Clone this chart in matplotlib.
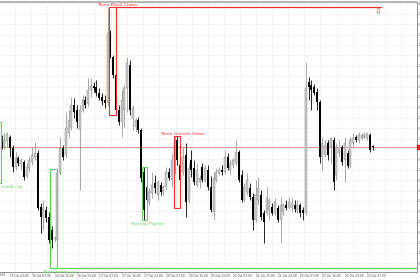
import matplotlib
matplotlib.use("Agg")
import matplotlib.pyplot as plt
import numpy as np
import pandas as pd
from matplotlib.patches import Rectangle
from matplotlib.transforms import blended_transform_factory

# hourly bars, prices in 1e-5 units
opens = [116290, 116265, 116295, 116315, 116260, 116165, 116210, 116180, 116190, 116120,
         116160, 116190, 116215, 116235, 115965, 115915, 115950, 115915, 115850, 115805,
         115800, 116135, 116260, 116225, 116335, 116365, 116475, 116450, 116350, 116450,
         116500, 116480, 116550, 116570, 116565, 116535, 116515, 116500, 116485, 116835,
         116715, 116625, 116450, 116390, 116450, 116560, 116675, 116410, 116365, 116400,
         116350, 116140, 116065, 115990, 116035, 116085, 116025, 116075, 116040, 116065,
         116140, 116100, 116200, 116300, 116175, 116140, 116225, 116000, 116200, 116160,
         116075, 116090, 116165, 116100, 116150, 116065, 115940, 116100, 116135, 116150,
         116140, 116215, 116150, 116175, 116185, 116240, 116125, 116000, 116040, 116060,
         116015, 115900, 116000, 116025, 115935, 115935, 115950, 115965, 115935, 115960,
         115900, 115940, 115975, 115965, 115960, 115975, 115950, 115975, 115950, 115935,
         116590, 116575, 116565, 116540, 116490, 116215, 116225, 116285, 116265, 116300,
         116125, 116235, 116265, 116200, 116235, 116175, 116285, 116315, 116300, 116310,
         116315, 116310, 116325, 116270]
highs = [116325, 116340, 116340, 116325, 116275, 116240, 116220, 116210, 116200, 116185,
         116215, 116265, 116290, 116250, 115985, 116000, 115970, 115940, 115870, 115820,
         116150, 116315, 116275, 116440, 116450, 116515, 116510, 116475, 116475, 116525,
         116520, 116610, 116610, 116590, 116600, 116560, 116535, 116525, 116960, 116850,
         116725, 116640, 116475, 116550, 116575, 116715, 116700, 116475, 116410, 116415,
         116360, 116165, 116085, 116060, 116140, 116125, 116100, 116090, 116075, 116165,
         116160, 116235, 116315, 116320, 116200, 116265, 116285, 116185, 116250, 116200,
         116185, 116125, 116185, 116175, 116175, 116120, 116140, 116160, 116165, 116175,
         116250, 116235, 116200, 116210, 116300, 116250, 116150, 116085, 116135, 116085,
         116035, 116100, 116115, 116050, 115950, 116065, 116010, 115985, 116010, 115975,
         116015, 115985, 116000, 116015, 116010, 116000, 116000, 115985, 115965, 116690,
         116615, 116600, 116580, 116560, 116500, 116315, 116300, 116300, 116315, 116315,
         116285, 116300, 116275, 116315, 116250, 116315, 116335, 116325, 116340, 116335,
         116340, 116340, 116335, 116275]
lows = [116255, 116255, 116265, 116215, 116140, 116150, 116170, 116150, 116100, 116110,
        116140, 116175, 116200, 115950, 115835, 115850, 115890, 115785, 115760, 115790,
        115790, 116125, 116200, 116210, 116315, 116350, 116410, 116360, 116050, 116440,
        116460, 116470, 116515, 116540, 116520, 116500, 116475, 116460, 116470, 116710,
        116610, 116435, 116375, 116315, 116365, 116440, 116425, 116350, 116340, 116335,
        116090, 115900, 115975, 115975, 116010, 116035, 116000, 116025, 116025, 116050,
        116100, 116065, 116135, 116175, 115965, 116125, 115915, 115985, 116115, 116075,
        116065, 116060, 116090, 116090, 116050, 115940, 115900, 116090, 116125, 116125,
        116130, 116150, 116125, 116160, 116175, 116090, 115990, 115990, 116025, 116000,
        115850, 115890, 115975, 115900, 115785, 115925, 115900, 115925, 115925, 115890,
        115785, 115925, 115950, 115955, 115940, 115940, 115935, 115915, 115900, 115925,
        116500, 116450, 116525, 116450, 116185, 116150, 116215, 116200, 116185, 116050,
        116100, 116215, 116175, 116090, 116160, 116160, 116265, 116290, 116285, 116300,
        116305, 116300, 116240, 116250]
closes = [116265, 116300, 116330, 116260, 116165, 116210, 116185, 116200, 116115, 116165,
          116200, 116225, 116235, 115960, 115915, 115960, 115910, 115800, 115800, 115810,
          116135, 116260, 116215, 116360, 116400, 116475, 116440, 116390, 116450, 116500,
          116475, 116550, 116570, 116560, 116535, 116510, 116495, 116485, 116835, 116715,
          116625, 116450, 116390, 116500, 116560, 116685, 116450, 116460, 116400, 116350,
          116110, 115950, 116000, 116040, 116075, 116060, 116090, 116040, 116065, 116140,
          116110, 116200, 116285, 116200, 116100, 116215, 115990, 116160, 116150, 116090,
          116150, 116110, 116100, 116160, 116065, 115950, 116110, 116140, 116150, 116140,
          116215, 116160, 116185, 116200, 116240, 116100, 116000, 116065, 116100, 116015,
          115900, 116025, 116060, 115915, 115890, 116010, 116000, 115935, 115990, 115900,
          115975, 115975, 115960, 115990, 115985, 115955, 115975, 115935, 115935, 116560,
          116565, 116550, 116535, 116490, 116215, 116285, 116275, 116225, 116310, 116090,
          116265, 116265, 116190, 116285, 116170, 116300, 116310, 116300, 116325, 116325,
          116325, 116330, 116250, 116265]

# detected candle patterns
pat_names = ["Inside Up", "Three Inside Up", "Three Black Crows", "Homing Pigeon", "Three Outside Down"]
pat_x0 = [-1.5, 17.3, 38.5, 50.2, 61.8]
pat_x1 = [-0.3, 19.9, 41.0, 52.0, 64.0]
pat_top = [116390, 116155, 116965, 116165, 116320]
pat_bot = [116085, 115660, 116425, 115900, 115960]
pat_bull = [True, True, False, True, False]
pat_label_x = [0.2, 14.4, 34.2, 46.4, 56.8]

o = np.array(opens) / 1e5
h = np.array(highs) / 1e5
l = np.array(lows) / 1e5
c = np.array(closes) / 1e5

times = pd.date_range("2025-10-15 20:00", "2025-10-23 09:00", freq="h")
times = times[times.dayofweek < 5]
x = np.arange(len(c))

fig = plt.figure(figsize=(4.2, 2.8), dpi=100)
ax = fig.add_axes([0, 8 / 280, 416.5 / 420, 270 / 280])
ax.set_xlim(-0.57, 148.7)
ax.set_ylim(1.15640, 1.16990)

# grid
ygrid = np.arange(1.169835, 1.1564, -0.00052)
for yy in ygrid:
    ax.axhline(yy, color="#d4d4d4", lw=0.5, ls=(0, (1, 2)), zorder=0)
for xx in np.arange(50.8 - 5.77 * 10, 150, 5.77):
    ax.axvline(xx, color="#d4d4d4", lw=0.5, ls=(0, (1, 2)), zorder=0)

up = c >= o
dn = ~up
ax.vlines(x[up], l[up], h[up], color="#9a9a9a", lw=0.6, zorder=2)
ax.vlines(x[dn], l[dn], h[dn], color="black", lw=0.6, zorder=2)
ax.bar(x[up], c[up] - o[up], bottom=o[up], width=0.72, color="#c8c8c8",
       edgecolor="#8a8a8a", linewidth=0.3, zorder=3)
ax.bar(x[dn], o[dn] - c[dn], bottom=c[dn], width=0.72, color="black",
       linewidth=0, zorder=3)

# current price
ax.axhline(c[-1], color="#e07a7a", lw=0.6, zorder=1)
trans = blended_transform_factory(ax.transAxes, ax.transData)
ax.add_patch(Rectangle((1.002, c[-1] - 0.00012), 0.02, 0.00024, transform=trans,
                       color="#e02020", clip_on=False, zorder=5))

# patterns
for name, x0, x1, top, bot, bull, lx in zip(pat_names, pat_x0, pat_x1, pat_top,
                                             pat_bot, pat_bull, pat_label_x):
    col = "#5fd35f" if bull else "#f03030"
    ax.add_patch(Rectangle((x0, bot / 1e5), x1 - x0, (top - bot) / 1e5, fill=False,
                           edgecolor=col, lw=0.8, zorder=4))
    if bull:
        ax.text(lx, bot / 1e5 - 0.00008, name, color=col, fontsize=3.2,
                ha="left", va="top", zorder=6, clip_on=False)
    else:
        ax.text(lx, top / 1e5 + 0.00001, name, color=col, fontsize=3.2,
                ha="left", va="bottom", zorder=6, clip_on=False)

# extended levels
ax.plot([pat_x1[2], 136.1], [pat_top[2] / 1e5] * 2, color="#f03030", lw=0.9, zorder=4)
ax.text(134.8, pat_top[2] / 1e5 - 0.00002, "\u21e9", color="#f03030", fontsize=6,
        ha="center", va="top", zorder=6)
ax.plot([pat_x0[1], 150], [pat_bot[1] / 1e5] * 2, color="#5fd35f", lw=0.9, zorder=4)

# axes styling
ax.spines["left"].set_visible(False)
ax.spines["right"].set_color("#808080")
ax.spines["right"].set_linewidth(0.6)
ax.spines["bottom"].set_color("#808080")
ax.spines["bottom"].set_linewidth(0.6)
ax.spines["top"].set_color("#a8a8a8")
ax.spines["top"].set_linewidth(1.2)

ax.yaxis.tick_right()
ax.set_yticks(ygrid)
ax.set_yticklabels([f"{v:.5f}" for v in ygrid])
ax.tick_params(axis="y", labelsize=1.8, length=1, width=0.4, pad=0.5, colors="#404040")

tick_idx = [i for i, t in enumerate(times) if t.hour in (7, 15, 23)]
ax.set_xticks(tick_idx)
ax.set_xticklabels([times[i].strftime("%d %b %H:%M") for i in tick_idx],
                   ha="left")
ax.tick_params(axis="x", labelsize=2.1, length=1, width=0.4, pad=0.5, colors="#404040")
# first (partly hidden) label
ax.text(-5, -0.004, "15 Oct 2025", transform=blended_transform_factory(ax.transData, ax.transAxes),
        fontsize=2.1, color="#404040", ha="left", va="top", clip_on=False)

fig.savefig("out.png", dpi=100)
